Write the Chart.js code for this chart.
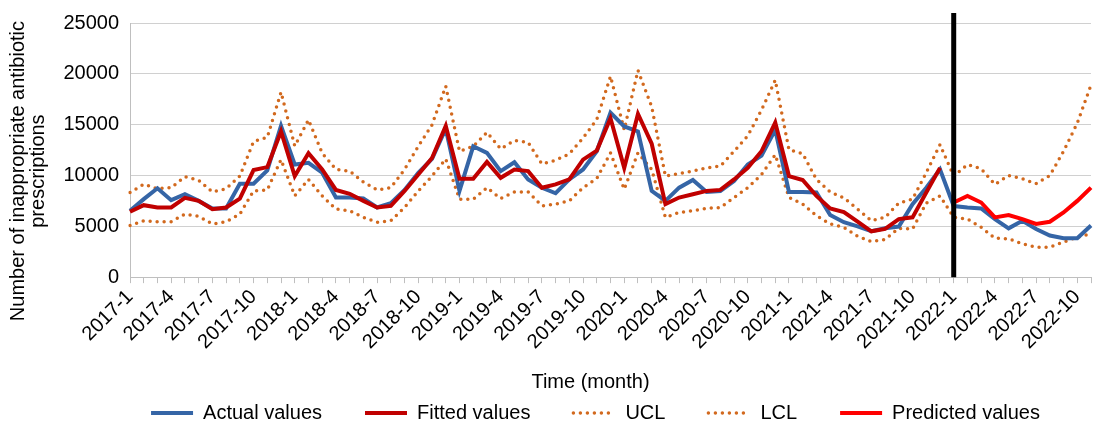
<!DOCTYPE html>
<html>
<head>
<meta charset="utf-8">
<script src="https://cdn.jsdelivr.net/npm/chart.js@4/dist/chart.umd.min.js"></script>
<style>
  html, body { margin: 0; padding: 0; background: #fff; }
  #wrap { width: 1093px; height: 424px; position: relative; }
</style>
</head>
<body>
<div id="wrap"><canvas id="myChart"></canvas></div>
<script>
// months on the x axis (only every 3rd one gets a label)
var months = [
  '2017-1','2017-2','2017-3','2017-4','2017-5','2017-6','2017-7','2017-8','2017-9','2017-10','2017-11','2017-12',
  '2018-1','2018-2','2018-3','2018-4','2018-5','2018-6','2018-7','2018-8','2018-9','2018-10','2018-11','2018-12',
  '2019-1','2019-2','2019-3','2019-4','2019-5','2019-6','2019-7','2019-8','2019-9','2019-10','2019-11','2019-12',
  '2020-1','2020-2','2020-3','2020-4','2020-5','2020-6','2020-7','2020-8','2020-9','2020-10','2020-11','2020-12',
  '2021-1','2021-2','2021-3','2021-4','2021-5','2021-6','2021-7','2021-8','2021-9','2021-10','2021-11','2021-12',
  '2022-1','2022-2','2022-3','2022-4','2022-5','2022-6','2022-7','2022-8','2022-9','2022-10','2022-11'
];

var actualValues = [
  6530, 7670, 8740, 7570, 8150, 7500, 6760, 6760, 9190, 9190, 10500, 14880,
  11080, 11240, 10270, 7830, 7830, 7730, 6850, 7280, 8580, 10270, 11630, 14600,
  8480, 12870, 12220, 10430, 11300, 9610, 8800, 8250, 9610, 10590, 12380, 16180,
  14820, 14330, 8480, 7500, 8800, 9550, 8380, 8480, 9450, 11080, 11960, 14500,
  8380, 8380, 8320, 6110, 5400, 5000, 4510, 4800, 4970, 7180, 8800, 10600,
  6990, 6850, 6760, 5710, 4800, 5550, 4740, 4090, 3830, 3830, 5070
];

var fittedValues = [
  6430, 7080, 6850, 6850, 7800, 7500, 6690, 6850, 7730, 10530, 10820, 14330,
  9940, 12200, 10590, 8580, 8200, 7500, 6850, 7010, 8480, 10100, 11720, 14870,
  9680, 9680, 11330, 9770, 10590, 10430, 8800, 9130, 9610, 11560, 12450, 15630,
  10750, 16050, 13120, 7180, 7830, 8150, 8480, 8580, 9610, 10750, 12380, 15210,
  9940, 9550, 7990, 6760, 6400, 5450, 4510, 4740, 5710, 5880, 8320, 10750,
  null, null, null, null, null, null, null, null, null, null, null
];

var uclValues = [
  8320, 9130, 8700, 8800, 9880, 9520, 8380, 8700, 9940, 13350, 13740, 18200,
  12900, 15470, 12200, 10590, 10430, 9350, 8580, 8800, 10590, 12870, 14980, 18790,
  12380, 12870, 14240, 12610, 13450, 13260, 11140, 11500, 12120, 13680, 15500, 19760,
  14500, 20340, 16760, 9940, 10200, 10430, 10750, 10920, 12380, 13910, 16440, 19370,
  12540, 12150, 9610, 8380, 7800, 6690, 5550, 5880, 7280, 7670, 10270, 13040,
  9940, 11080, 10660, 9130, 9990, 9680, 9190, 9990, 12380, 15150, 18900
];

var lclValues = [
  5070, 5550, 5450, 5450, 6200, 5980, 5230, 5450, 6200, 8480, 8580, 11570,
  7990, 9610, 7990, 6690, 6530, 5880, 5390, 5550, 6850, 8480, 9940, 11630,
  7670, 7670, 8800, 7730, 8380, 8380, 7010, 7180, 7500, 8800, 9700, 12220,
  8640, 12220, 10590, 5880, 6360, 6530, 6760, 6850, 7830, 8800, 10100, 12050,
  7830, 7180, 6040, 5230, 4900, 4020, 3500, 3700, 4800, 4740, 7280, 7990,
  5880, 5710, 4900, 3830, 3770, 3280, 2950, 2950, 3450, 3930, 4250
];

var predictedValues = [
  null, null, null, null, null, null, null, null, null, null, null, null,
  null, null, null, null, null, null, null, null, null, null, null, null,
  null, null, null, null, null, null, null, null, null, null, null, null,
  null, null, null, null, null, null, null, null, null, null, null, null,
  null, null, null, null, null, null, null, null, null, null, null, null,
  7340, 7990, 7340, 5880, 6110, 5710, 5230, 5450, 6360, 7500, 8800
];

var yTicks = [0, 5000, 10000, 15000, 20000, 25000];
var yTitleLines = ['Number of inappropriate antibiotic', 'prescriptions'];
var xTitle = 'Time (month)';
var forecastStart = '2022-1';

var FONT = 'Liberation Sans, Arial, sans-serif';
var orange = '#D2691E';
var legendGap = 43;

// thick black separator where the forecast begins
var dividerPlugin = {
  id: 'divider',
  afterDatasetsDraw: function(chart) {
    var xs = chart.scales.x;
    var x = xs.getPixelForValue(months.indexOf(forecastStart));
    var c = chart.ctx;
    c.save();
    c.strokeStyle = '#000';
    c.lineWidth = 5;
    c.beginPath();
    c.moveTo(x, chart.chartArea.top - 10);
    c.lineTo(x, chart.chartArea.bottom);
    c.stroke();
    c.restore();
  }
};

// axis titles drawn by hand, Excel does not centre them on the plot
var titlesPlugin = {
  id: 'titles',
  afterDraw: function(chart) {
    var a = chart.chartArea;
    var xs = chart.scales.x;
    var c = chart.ctx;
    c.save();
    c.font = '20px ' + FONT;
    c.fillStyle = '#000';
    c.textAlign = 'center';
    c.textBaseline = 'middle';
    c.fillText(xTitle, (a.left + a.right) / 2 - 20, xs.bottom - 12);
    c.translate(18, (a.top + a.bottom) / 2 + 21);
    c.rotate(-Math.PI / 2);
    c.fillText(yTitleLines[0], 0, 0);
    c.fillText(yTitleLines[1], 0, 20);
    c.restore();
  }
};

// legend padding is also used vertically; keep the box short and
// move it so the row lands where Excel puts it
var legendShift = {
  id: 'legendShift',
  afterLayout: function(chart) {
    var lg = chart.legend;
    lg.left += 46;
    lg.right += 46;
    lg.top -= legendGap - 9;
  }
};

var ctx = document.getElementById('myChart');
var config = {
  type: 'line',
  data: {
    labels: months,
    datasets: [
      {
        label: 'Actual values',
        data: actualValues,
        borderColor: '#3565A6',
        backgroundColor: '#3565A6',
        borderWidth: 4,
        order: 3
      },
      {
        label: 'Fitted values',
        data: fittedValues,
        borderColor: '#C00000',
        backgroundColor: '#C00000',
        borderWidth: 4,
        order: 2
      },
      {
        label: 'UCL',
        data: uclValues,
        borderColor: orange,
        backgroundColor: orange,
        borderWidth: 3.5,
        borderDash: [0, 7],
        borderCapStyle: 'round',
        order: 4
      },
      {
        label: 'LCL',
        data: lclValues,
        borderColor: orange,
        backgroundColor: orange,
        borderWidth: 3.5,
        borderDash: [0, 7],
        borderCapStyle: 'round',
        order: 5
      },
      {
        label: 'Predicted values',
        data: predictedValues,
        borderColor: '#FF0000',
        backgroundColor: '#FF0000',
        borderWidth: 4,
        order: 1
      }
    ]
  },
  options: {
    responsive: true,
    maintainAspectRatio: false,
    animation: false,
    layout: { padding: { top: 15, left: 8, right: 2, bottom: 0 } },
    elements: {
      line: { tension: 0, fill: false },
      point: { radius: 0, hoverRadius: 0 }
    },
    plugins: {
      tooltip: { enabled: false },
      legend: {
        position: 'bottom',
        maxHeight: 30,
        labels: {
          usePointStyle: true,
          pointStyle: 'line',
          boxWidth: 32,
          boxHeight: 4,
          pointStyleWidth: 42,
          padding: legendGap,
          color: '#000',
          font: { family: FONT, size: 20 },
          sort: function(a, b) { return a.datasetIndex - b.datasetIndex; },
          generateLabels: function(chart) {
            var items = Chart.defaults.plugins.legend.labels.generateLabels(chart);
            items.forEach(function(it) {
              var ds = chart.data.datasets[it.datasetIndex];
              it.lineWidth = ds.borderWidth;
              it.strokeStyle = ds.borderColor;
              it.lineDash = ds.borderDash || [];
              it.lineCap = ds.borderDash ? 'round' : 'butt';
            });
            return items;
          }
        }
      }
    },
    scales: {
      x: {
        offset: false,
        grid: { drawOnChartArea: false, drawTicks: true, tickLength: 6, color: '#BFBFBF' },
        border: { color: '#BFBFBF' },
        afterFit: function(axis) {
          // last label is blank, no need to reserve room for it
          axis.paddingRight = 0;
        },
        ticks: {
          autoSkip: false,
          maxRotation: 45,
          minRotation: 45,
          padding: 2,
          color: '#000',
          font: { family: FONT, size: 20 },
          callback: function(val, i) { return i % 3 === 0 ? months[i] : ''; }
        },
        title: {
          // keeps the room for the title; the text itself is drawn by titlesPlugin
          display: true,
          text: xTitle,
          color: 'rgba(0,0,0,0)',
          font: { family: FONT, size: 20 },
          padding: { top: 14, bottom: 0 }
        }
      },
      y: {
        min: yTicks[0],
        max: yTicks[yTicks.length - 1],
        grid: { color: '#D0D0D0', drawTicks: false },
        border: { color: '#BFBFBF' },
        afterBuildTicks: function(axis) {
          axis.ticks = yTicks.map(function(v) { return { value: v }; });
        },
        afterFit: function(axis) {
          axis.width = 122;
        },
        ticks: {
          padding: 11,
          color: '#000',
          font: { family: FONT, size: 20 },
          callback: function(v) { return String(v); }
        }
      }
    }
  },
  plugins: [dividerPlugin, titlesPlugin, legendShift]
};
var myChart = new Chart(ctx, config);
</script>
</body>
</html>
